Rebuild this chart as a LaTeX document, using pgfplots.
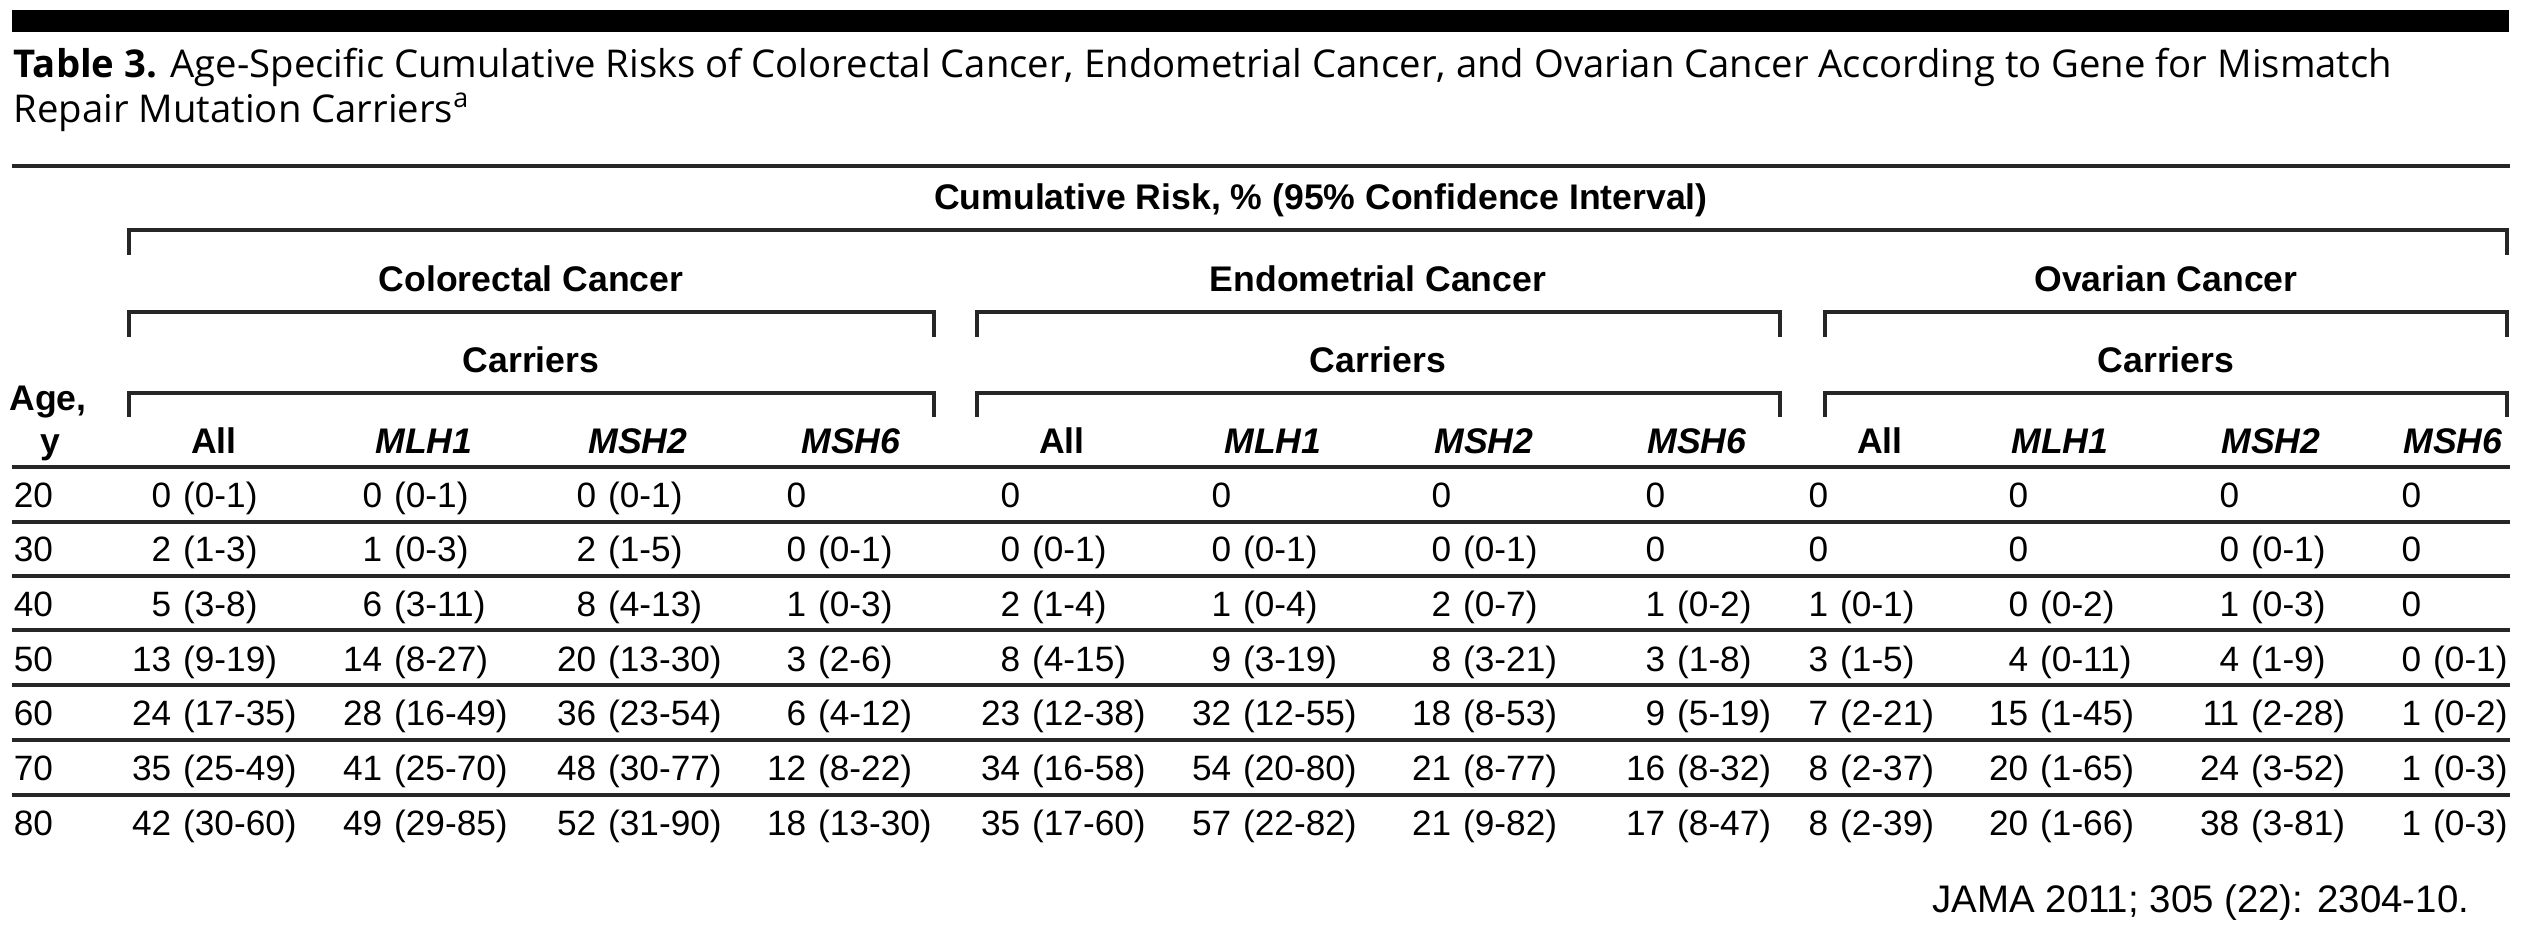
\documentclass[border=0pt]{standalone}
\usepackage{pgfplots}
\pgfplotsset{compat=1.18}
\usepackage{pgfplotstable}
\usepackage{fontspec}
\setmainfont{Liberation Sans}
\newfontfamily\titlefont{Open Sans}
\newcommand\bodyfont{\fontsize{8.8}{10}\selectfont}
\newcommand\hdfont{\fontsize{8.9}{10}\selectfont\bfseries}
\newcommand\gene[1]{\textit{#1}}

\pgfplotstableread{
x age est
172 20 0
383 20 0
597 20 0
807 20 0
1021 20 0
1232 20 0
1452 20 0
1666 20 0
1829 20 0
2029 20 0
2240 20 0
2422 20 0
172 30 2
383 30 1
597 30 2
807 30 0
1021 30 0
1232 30 0
1452 30 0
1666 30 0
1829 30 0
2029 30 0
2240 30 0
2422 30 0
172 40 5
383 40 6
597 40 8
807 40 1
1021 40 2
1232 40 1
1452 40 2
1666 40 1
1829 40 1
2029 40 0
2240 40 1
2422 40 0
172 50 13
383 50 14
597 50 20
807 50 3
1021 50 8
1232 50 9
1452 50 8
1666 50 3
1829 50 3
2029 50 4
2240 50 4
2422 50 0
172 60 24
383 60 28
597 60 36
807 60 6
1021 60 23
1232 60 32
1452 60 18
1666 60 9
1829 60 7
2029 60 15
2240 60 11
2422 60 1
172 70 35
383 70 41
597 70 48
807 70 12
1021 70 34
1232 70 54
1452 70 21
1666 70 16
1829 70 8
2029 70 20
2240 70 24
2422 70 1
172 80 42
383 80 49
597 80 52
807 80 18
1021 80 35
1232 80 57
1452 80 21
1666 80 17
1829 80 8
2029 80 20
2240 80 38
2422 80 1
}\esttable

\pgfplotstableread{
x age ci
172 20 (0-1)
383 20 (0-1)
597 20 (0-1)
172 30 (1-3)
383 30 (0-3)
597 30 (1-5)
807 30 (0-1)
1021 30 (0-1)
1232 30 (0-1)
1452 30 (0-1)
2240 30 (0-1)
172 40 (3-8)
383 40 (3-11)
597 40 (4-13)
807 40 (0-3)
1021 40 (1-4)
1232 40 (0-4)
1452 40 (0-7)
1666 40 (0-2)
1829 40 (0-1)
2029 40 (0-2)
2240 40 (0-3)
172 50 (9-19)
383 50 (8-27)
597 50 (13-30)
807 50 (2-6)
1021 50 (4-15)
1232 50 (3-19)
1452 50 (3-21)
1666 50 (1-8)
1829 50 (1-5)
2029 50 (0-11)
2240 50 (1-9)
2422 50 (0-1)
172 60 (17-35)
383 60 (16-49)
597 60 (23-54)
807 60 (4-12)
1021 60 (12-38)
1232 60 (12-55)
1452 60 (8-53)
1666 60 (5-19)
1829 60 (2-21)
2029 60 (1-45)
2240 60 (2-28)
2422 60 (0-2)
172 70 (25-49)
383 70 (25-70)
597 70 (30-77)
807 70 (8-22)
1021 70 (16-58)
1232 70 (20-80)
1452 70 (8-77)
1666 70 (8-32)
1829 70 (2-37)
2029 70 (1-65)
2240 70 (3-52)
2422 70 (0-3)
172 80 (30-60)
383 80 (29-85)
597 80 (31-90)
807 80 (13-30)
1021 80 (17-60)
1232 80 (22-82)
1452 80 (9-82)
1666 80 (8-47)
1829 80 (2-39)
2029 80 (1-66)
2240 80 (3-81)
2422 80 (0-3)
}\citable

\pgfplotstableread{
x age
13 20
13 30
13 40
13 50
13 60
13 70
13 80
}\agetable

\begin{document}
\begin{tikzpicture}
\begin{axis}[
  width=633pt, height=231.5pt, scale only axis,
  xmin=0, xmax=2532, ymin=0, ymax=926,
  hide axis, clip=false,
]
\path (rel axis cs:0,0) rectangle (rel axis cs:1,1);
% top black bar
\addplot[black, line width=5.5pt] coordinates {(12,905) (2509,905)};
% rules
\addplot[black!85, line width=0.8pt] coordinates {(12,760) (2510,760)};
\addplot[black!85, line width=0.8pt] coordinates {(12,459) (2510,459)};
\addplot[black!85, line width=0.8pt] coordinates {(12,404) (2510,404)};
\addplot[black!85, line width=0.8pt] coordinates {(12,350) (2510,350)};
\addplot[black!85, line width=0.8pt] coordinates {(12,296) (2510,296)};
\addplot[black!85, line width=0.8pt] coordinates {(12,241) (2510,241)};
\addplot[black!85, line width=0.8pt] coordinates {(12,186) (2510,186)};
\addplot[black!85, line width=0.8pt] coordinates {(12,131) (2510,131)};
% brackets
\addplot[black!85, line width=0.8pt] coordinates {(129,671) (129,696) (2507,696) (2507,671)};
\addplot[black!85, line width=0.8pt] coordinates {(129,589) (129,614) (934,614) (934,589)};
\addplot[black!85, line width=0.8pt] coordinates {(977,589) (977,614) (1780,614) (1780,589)};
\addplot[black!85, line width=0.8pt] coordinates {(1825,589) (1825,614) (2507,614) (2507,589)};
\addplot[black!85, line width=0.8pt] coordinates {(129,509) (129,533) (934,533) (934,509)};
\addplot[black!85, line width=0.8pt] coordinates {(977,509) (977,533) (1780,533) (1780,509)};
\addplot[black!85, line width=0.8pt] coordinates {(1825,509) (1825,533) (2507,533) (2507,509)};

% data: estimates
\addplot[draw=none, mark=none, point meta=explicit symbolic, nodes near coords,
  every node near coord/.append style={anchor=base east, inner sep=0pt, font=\bodyfont}]
  table[x=x, y expr={419-5.4667*(\thisrow{age}-20)}, meta=est] {\esttable};
% data: confidence intervals
\addplot[draw=none, mark=none, point meta=explicit symbolic, nodes near coords,
  every node near coord/.append style={anchor=base west, inner sep=0pt, xshift=2.6pt, font=\bodyfont}]
  table[x=x, y expr={419-5.4667*(\thisrow{age}-20)}, meta=ci] {\citable};
% ages
\addplot[draw=none, mark=none, point meta=explicit symbolic, nodes near coords,
  every node near coord/.append style={anchor=base west, inner sep=0pt, font=\bodyfont}]
  table[x=x, y expr={419-5.4667*(\thisrow{age}-20)}, meta=age] {\agetable};

% title
\node[anchor=base west, inner sep=0pt, font=\titlefont\fontsize{9.57}{11}\selectfont] at (axis cs:13,849)
  {\textbf{Table 3.} Age-Specific Cumulative Risks of Colorectal Cancer, Endometrial Cancer, and Ovarian Cancer According to Gene for Mismatch};
\node[anchor=base west, inner sep=0pt, font=\titlefont\fontsize{9.57}{11}\selectfont] at (axis cs:13,804)
  {Repair Mutation Carriers\textsuperscript{a}};

% headers
\node[anchor=base, inner sep=0pt, font=\hdfont] at (axis cs:1321,717) {Cumulative Risk, \% (95\% Confidence Interval)};
\node[anchor=base, inner sep=0pt, font=\hdfont] at (axis cs:531,635) {Colorectal Cancer};
\node[anchor=base, inner sep=0pt, font=\hdfont] at (axis cs:1378,635) {Endometrial Cancer};
\node[anchor=base, inner sep=0pt, font=\hdfont] at (axis cs:2166,635) {Ovarian Cancer};
\node[anchor=base, inner sep=0pt, font=\hdfont] at (axis cs:531,554) {Carriers};
\node[anchor=base, inner sep=0pt, font=\hdfont] at (axis cs:1378,554) {Carriers};
\node[anchor=base, inner sep=0pt, font=\hdfont] at (axis cs:2166,554) {Carriers};
\node[anchor=base, inner sep=0pt, font=\hdfont] at (axis cs:48,516) {Age,};
\node[anchor=base, inner sep=0pt, font=\hdfont] at (axis cs:50,473) {y};
\node[anchor=base, inner sep=0pt, font=\hdfont] at (axis cs:214,473) {All};
\node[anchor=base, inner sep=0pt, font=\hdfont] at (axis cs:424,473) {\gene{MLH1}};
\node[anchor=base, inner sep=0pt, font=\hdfont] at (axis cs:638,473) {\gene{MSH2}};
\node[anchor=base, inner sep=0pt, font=\hdfont] at (axis cs:851,473) {\gene{MSH6}};
\node[anchor=base, inner sep=0pt, font=\hdfont] at (axis cs:1062,473) {All};
\node[anchor=base, inner sep=0pt, font=\hdfont] at (axis cs:1273,473) {\gene{MLH1}};
\node[anchor=base, inner sep=0pt, font=\hdfont] at (axis cs:1484,473) {\gene{MSH2}};
\node[anchor=base, inner sep=0pt, font=\hdfont] at (axis cs:1697,473) {\gene{MSH6}};
\node[anchor=base, inner sep=0pt, font=\hdfont] at (axis cs:1880,473) {All};
\node[anchor=base, inner sep=0pt, font=\hdfont] at (axis cs:2060,473) {\gene{MLH1}};
\node[anchor=base, inner sep=0pt, font=\hdfont] at (axis cs:2271,473) {\gene{MSH2}};
\node[anchor=base, inner sep=0pt, font=\hdfont] at (axis cs:2453,473) {\gene{MSH6}};

% source
\node[anchor=base east, inner sep=0pt, font=\fontsize{9.6}{11}\selectfont] at (axis cs:2470,14) {JAMA 2011; 305 (22): 2304-10.};
\end{axis}
\end{tikzpicture}
\end{document}
